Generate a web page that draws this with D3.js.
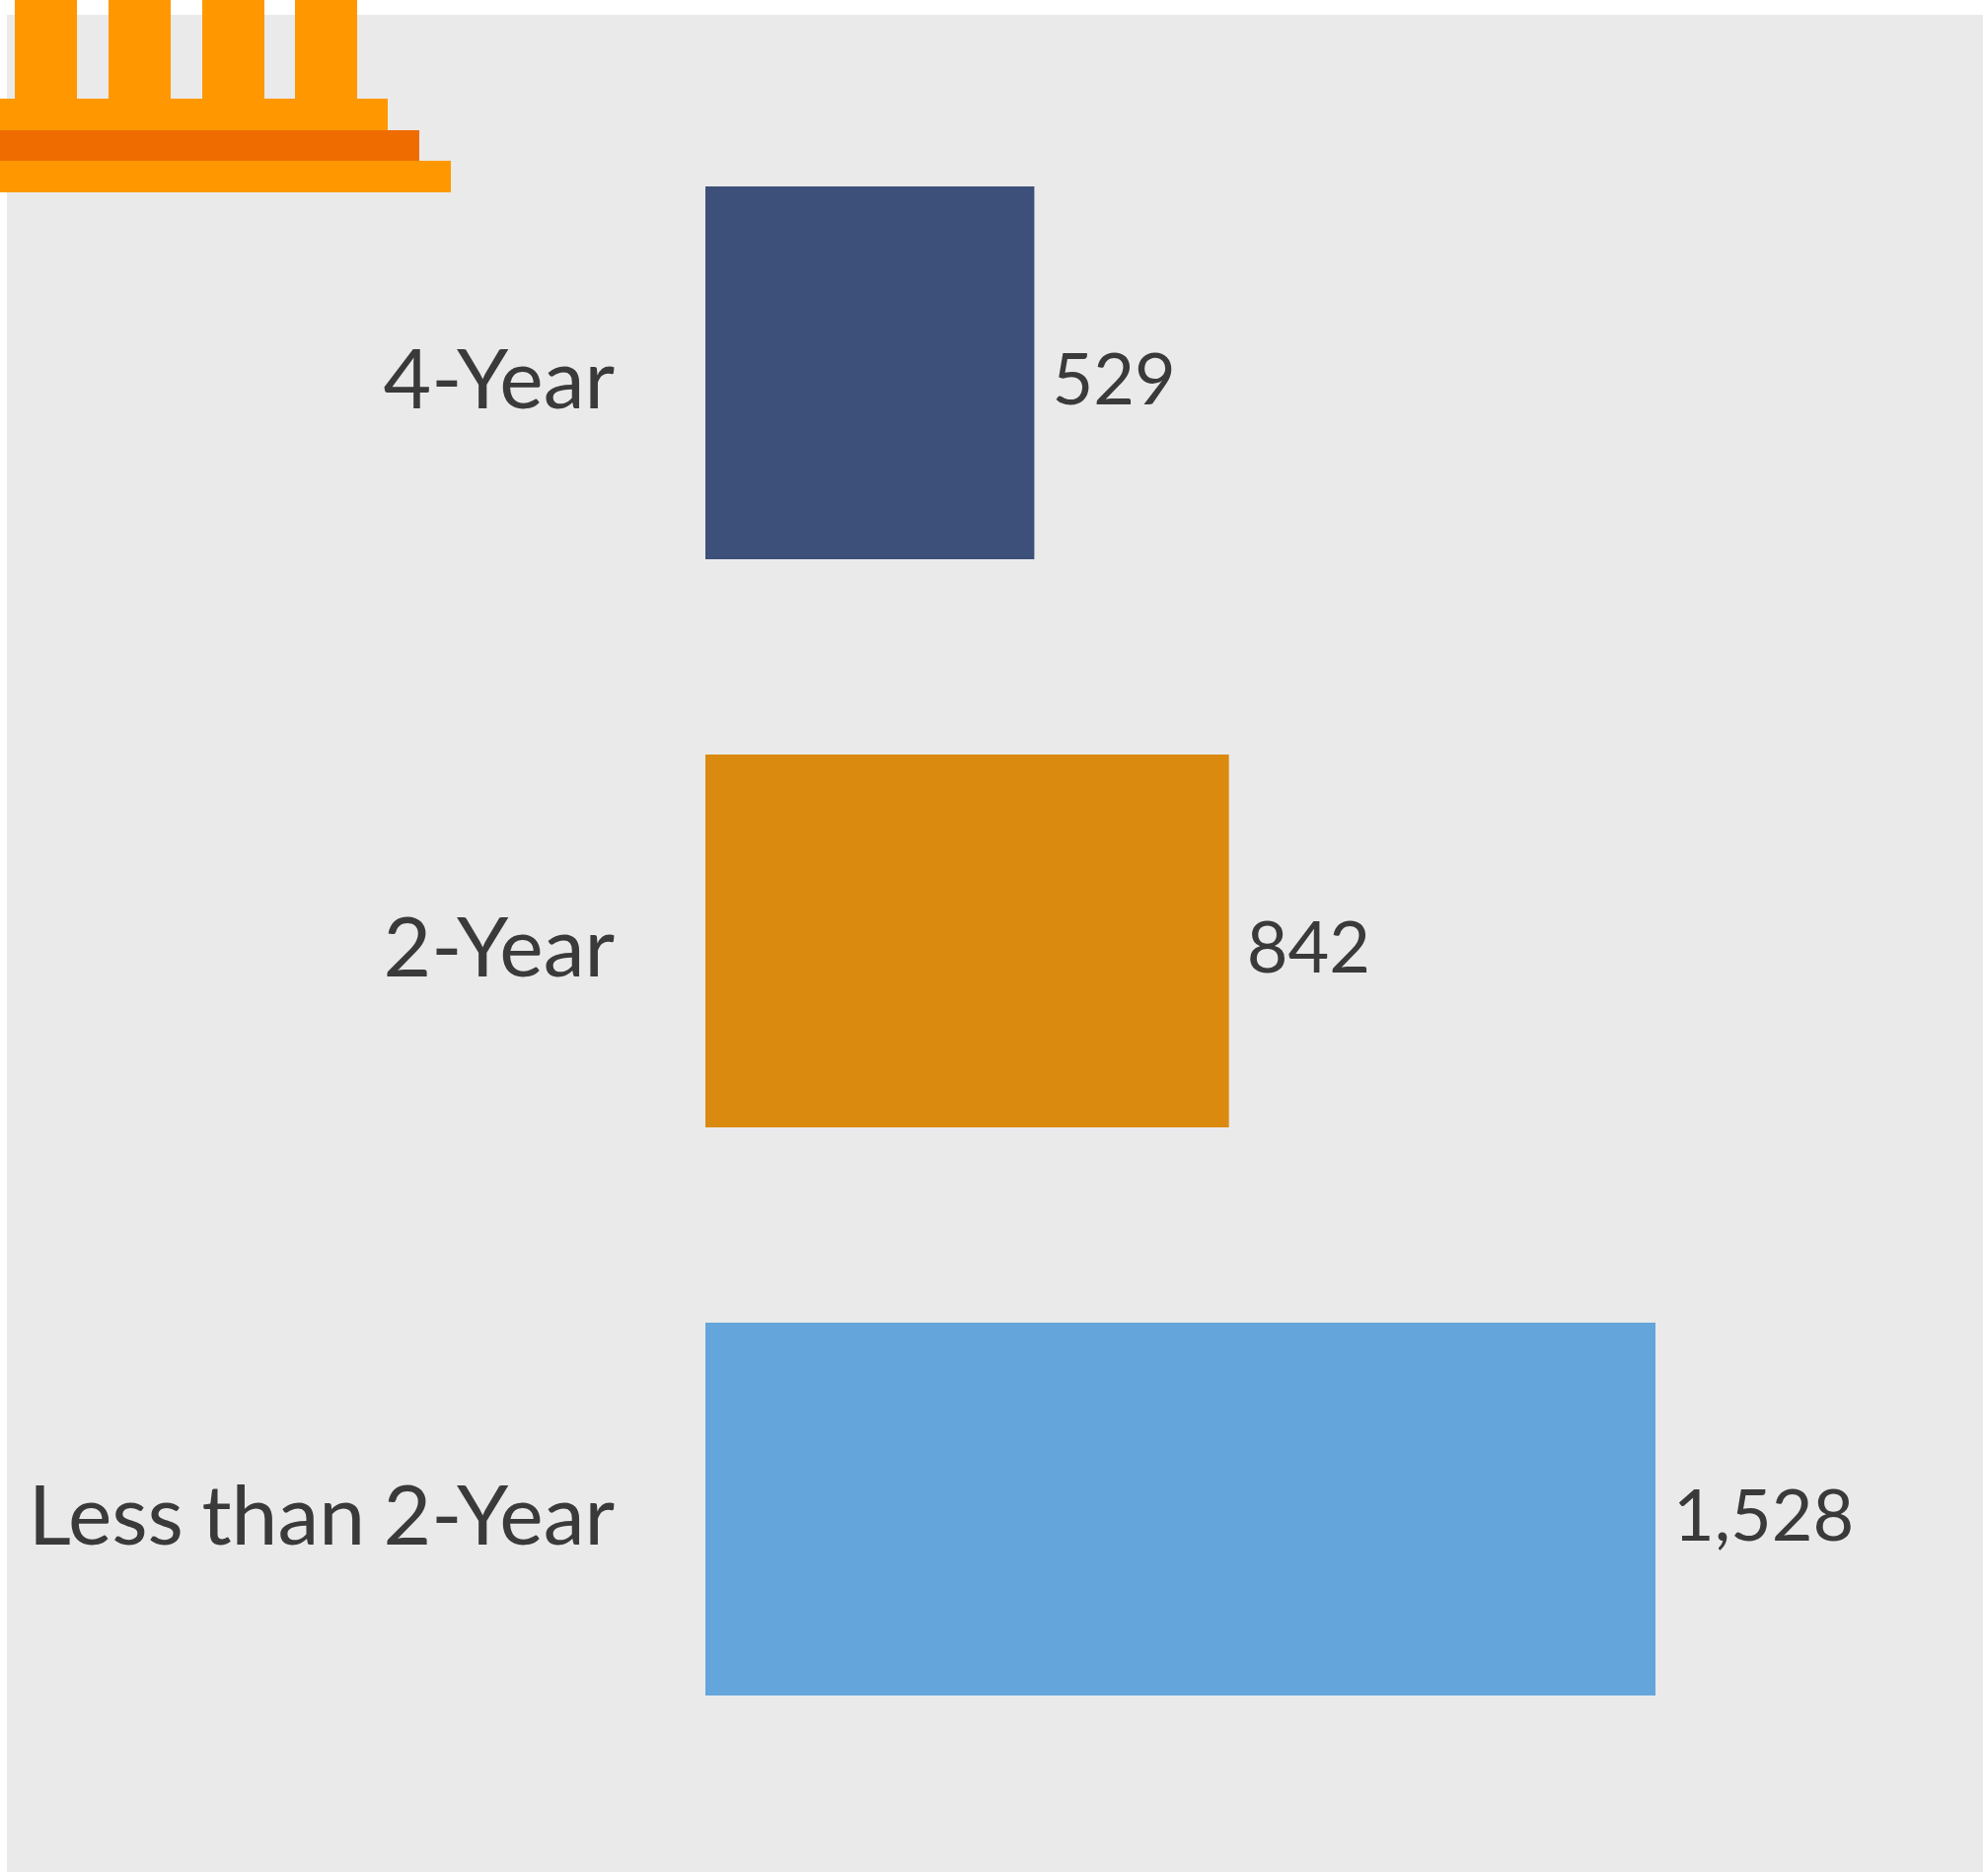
<!DOCTYPE html>
<html>
<head>
<meta charset="utf-8">
<script src="https://cdn.jsdelivr.net/npm/d3@7/dist/d3.min.js"></script>
<style>
html, body { margin: 0; padding: 0; background: #fff; }
svg { display: block; }
text { font-family: Lato, sans-serif; fill: #3a3a3a; }
</style>
</head>
<body>
<svg id="chart" width="2010" height="1902"></svg>
<script>
// Institutions by program length
const categories = ["4-Year", "2-Year", "Less than 2-Year"];
const counts = [529, 842, 1528];
const barColors = ["#3D5079", "#DA8A0F", "#64A5DC"];

const panel = { x: 7, y: 15, right: 2010, bottom: 1898 };
const plotLeft = 715;

const svg = d3.select("#chart");

svg.append("rect")
  .attr("x", panel.x).attr("y", panel.y)
  .attr("width", panel.right - panel.x)
  .attr("height", panel.bottom - panel.y)
  .attr("fill", "#EAEAEA");

const x = d3.scaleLinear().domain([0, 1528]).range([plotLeft, 1678]);
const y = d3.scaleBand().domain(categories)
  .range([189, 1719]).paddingInner(0.34375).paddingOuter(0);

// Bars
svg.append("g").selectAll("rect")
  .data(categories)
  .join("rect")
  .attr("x", x(0))
  .attr("y", d => y(d))
  .attr("width", (d, i) => x(counts[i]) - x(0))
  .attr("height", y.bandwidth())
  .attr("fill", (d, i) => barColors[i]);

// Category labels
const axis = svg.append("g")
  .attr("transform", `translate(${plotLeft - 92},0)`)
  .call(d3.axisLeft(y).tickSize(0).tickPadding(0));
axis.select(".domain").remove();
axis.selectAll("text")
  .attr("dy", "0.43em")
  .style("font-size", "84px")
  .style("word-spacing", "-3px")
  .style("fill", "#3a3a3a");
axis.attr("font-family", null).attr("font-size", null);

// Value labels
svg.append("g").selectAll("text")
  .data(categories)
  .join("text")
  .attr("x", (d, i) => x(counts[i]) + 18)
  .attr("y", d => y(d) + y.bandwidth() / 2)
  .attr("dy", "0.444em")
  .style("font-size", "72px")
  .text((d, i) => d3.format(",")(counts[i]));

// Building icon in the top-left corner
const icon = svg.append("g");
const columnLefts = [15, 110, 205, 299];
icon.selectAll(".column")
  .data(columnLefts)
  .join("rect")
  .attr("class", "column")
  .attr("x", d => d).attr("y", 0)
  .attr("width", 63).attr("height", 101)
  .attr("fill", "#FF9800");
const steps = [
  { y: 100, w: 393, h: 33, c: "#FF9800" },
  { y: 132, w: 425, h: 32, c: "#EF6C00" },
  { y: 163, w: 457, h: 32, c: "#FF9800" }
];
icon.selectAll(".step")
  .data(steps)
  .join("rect")
  .attr("class", "step")
  .attr("x", 0).attr("y", d => d.y)
  .attr("width", d => d.w).attr("height", d => d.h)
  .attr("fill", d => d.c);
</script>
</body>
</html>
